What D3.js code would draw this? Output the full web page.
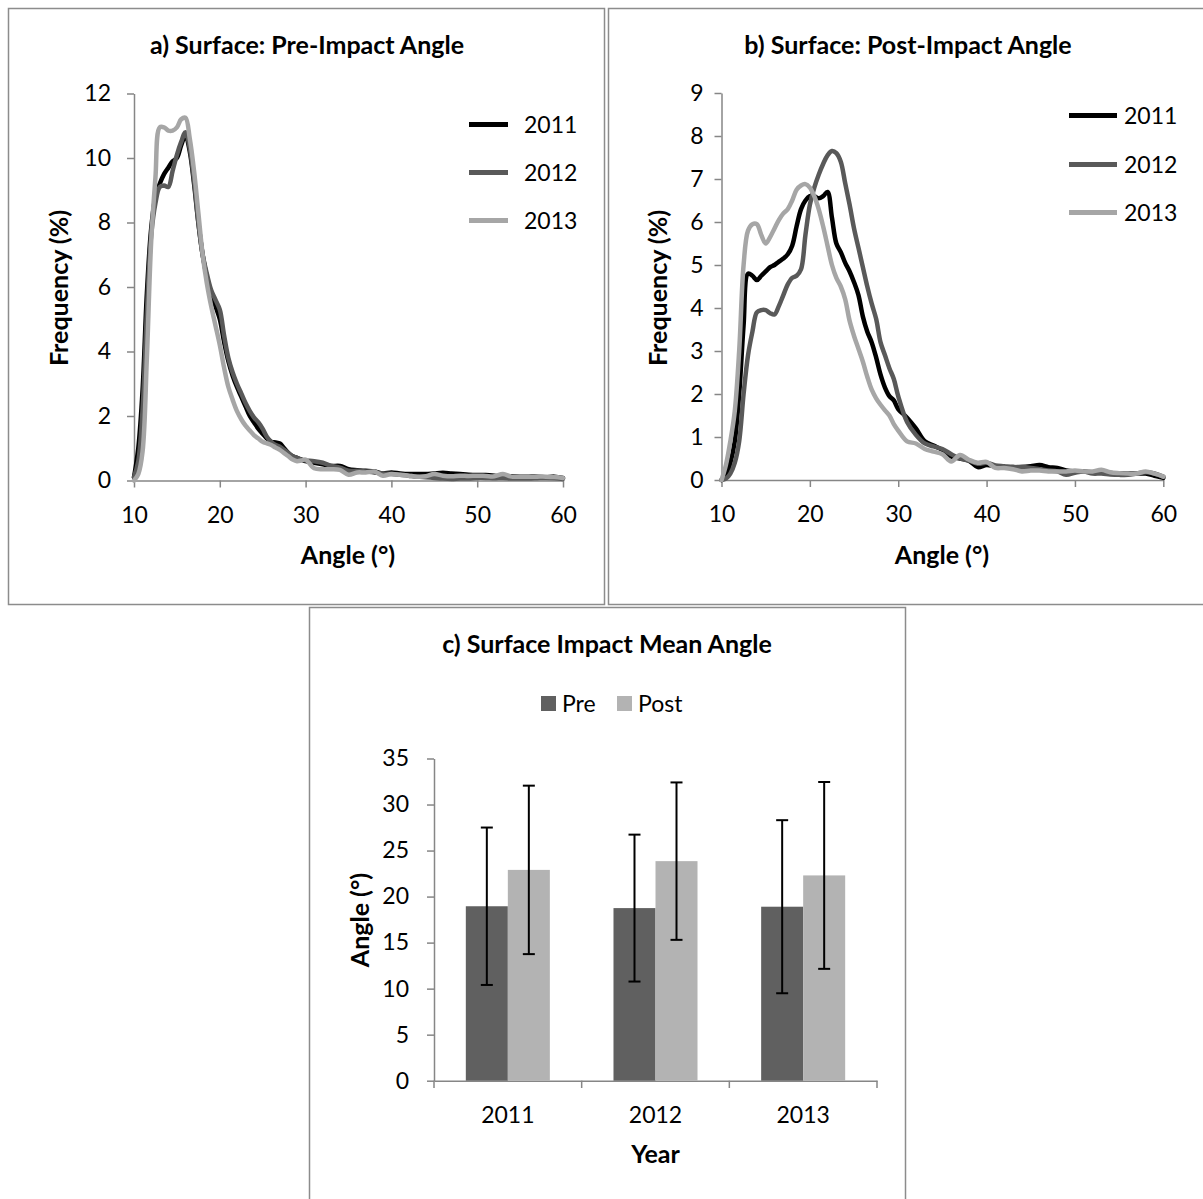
<!DOCTYPE html>
<html><head><meta charset="utf-8">
<script src="https://cdn.jsdelivr.net/npm/d3@7"></script>
<style>
body{margin:0;background:#fff}
svg{display:block}
text{font-family:Lato,"Open Sans",sans-serif;fill:#000}
</style>
</head><body>
<svg id="chart" width="1203" height="1199"></svg>
<script>
// ---------- DATA ----------
const angles = [10,10.5,11,11.5,12,12.5,13,13.5,14,14.5,15,15.5,16,16.5,17,17.5,18,18.5,19,19.5,20,20.5,21,21.5,22,22.5,23,23.5,24,24.5,25,25.5,26,26.5,27,27.5,28,28.5,29,29.5,30,
  31,32,33,34,35,36,37,38,39,40,41,42,43,44,45,46,47,48,49,50,51,52,53,54,55,56,57,58,59,60];
const yearNames = ["2011","2012","2013"];

const pre2011 = [0.1,1.0,2.8,5.8,7.8,8.8,9.2,9.5,9.7,9.9,10.0,10.4,10.7,10.2,9.2,8.0,7.0,6.3,5.8,5.4,5.0,4.3,3.7,3.25,2.9,2.6,2.3,2.0,1.8,1.6,1.45,1.3,1.2,1.18,1.15,1.0,0.85,0.75,0.7,0.65,0.6,
  0.55,0.5,0.45,0.45,0.35,0.32,0.3,0.28,0.22,0.25,0.22,0.2,0.2,0.2,0.22,0.24,0.22,0.2,0.18,0.17,0.17,0.15,0.12,0.13,0.12,0.12,0.12,0.1,0.12,0.08];
const pre2012 = [0.1,0.6,2.2,5.2,7.6,8.6,9.1,9.15,9.1,9.6,10.1,10.5,10.8,10.3,9.3,8.0,7.0,6.4,5.9,5.6,5.3,4.5,3.8,3.35,3.0,2.7,2.4,2.15,1.95,1.8,1.6,1.35,1.2,1.1,1.05,0.95,0.85,0.75,0.7,0.65,0.62,
  0.6,0.55,0.45,0.4,0.3,0.3,0.28,0.25,0.22,0.2,0.18,0.15,0.12,0.1,0.08,0.06,0.05,0.06,0.06,0.08,0.08,0.07,0.08,0.06,0.06,0.06,0.07,0.08,0.07,0.05];
const pre2013 = [0,0.2,0.9,3.8,7.4,9.4,10.95,10.95,10.85,10.85,10.95,11.2,11.25,10.6,9.6,8.3,7.0,6.1,5.4,4.8,4.2,3.5,2.9,2.5,2.15,1.9,1.7,1.55,1.4,1.3,1.2,1.15,1.1,1.02,0.95,0.85,0.75,0.65,0.6,0.62,0.65,
  0.38,0.35,0.35,0.33,0.18,0.25,0.25,0.28,0.15,0.2,0.18,0.15,0.12,0.13,0.2,0.15,0.13,0.15,0.14,0.15,0.14,0.13,0.2,0.12,0.12,0.12,0.12,0.12,0.11,0.08];

const post2011 = [0,0.1,0.4,0.9,2.0,3.6,4.8,4.75,4.65,4.75,4.85,4.95,5.0,5.08,5.15,5.25,5.45,5.9,6.3,6.5,6.6,6.6,6.55,6.6,6.7,6.1,5.5,5.3,5.05,4.85,4.6,4.3,3.8,3.45,3.2,2.85,2.45,2.15,1.95,1.85,1.65,
  1.45,1.2,0.9,0.8,0.7,0.55,0.5,0.45,0.3,0.35,0.32,0.3,0.3,0.3,0.32,0.35,0.3,0.28,0.22,0.2,0.2,0.18,0.17,0.16,0.15,0.15,0.15,0.15,0.1,0.05];
const post2012 = [0,0.03,0.15,0.4,0.9,2.0,2.9,3.45,3.9,3.95,3.95,3.88,3.85,4.05,4.3,4.55,4.7,4.75,4.9,5.7,6.4,6.8,7.1,7.35,7.55,7.65,7.6,7.4,6.9,6.4,5.85,5.4,4.95,4.5,4.1,3.75,3.2,2.9,2.6,2.35,1.95,
  1.35,1.05,0.85,0.78,0.72,0.6,0.5,0.45,0.38,0.4,0.34,0.32,0.3,0.3,0.28,0.25,0.22,0.2,0.12,0.17,0.2,0.15,0.15,0.13,0.12,0.12,0.15,0.18,0.15,0.08];
const post2013 = [0,0.35,0.9,1.6,3.0,5.0,5.8,5.95,5.95,5.7,5.5,5.65,5.85,6.05,6.2,6.3,6.5,6.75,6.85,6.88,6.8,6.6,6.3,5.9,5.45,5.0,4.7,4.5,4.2,3.7,3.35,3.05,2.75,2.4,2.1,1.9,1.75,1.62,1.5,1.3,1.15,
  0.9,0.85,0.72,0.66,0.6,0.43,0.58,0.47,0.4,0.42,0.28,0.28,0.25,0.2,0.22,0.22,0.2,0.2,0.2,0.22,0.2,0.2,0.24,0.18,0.16,0.15,0.15,0.2,0.15,0.08];

const freqTicksA = [0,2,4,6,8,10,12];
const freqTicksB = [0,1,2,3,4,5,6,7,8,9];
const angleTicks = [10,20,30,40,50,60];

const barGroups = ["Pre","Post"];
const preMean  = [18.95,18.75,18.9];
const preSD    = [8.55,7.98,9.4];
const postMean = [22.9,23.85,22.3];
const postSD   = [9.15,8.55,10.15];
const meanTicks = [0,5,10,15,20,25,30,35];

// ---------- STYLE ----------
const lineColors = ["#000000","#595959","#a6a6a6"];
const barColors = {Pre:"#606060", Post:"#b3b3b3"};
const axisColor = "#868686";
const frameColor = "#8c8c8c";
const tickFont = "23px";
const boldFont = "25px";

const svg = d3.select("#chart");

// frames
[[8,8,596,596],[608,8,600,596],[309,607,596,600]].forEach(f=>{
  svg.append("rect").attr("x",f[0]+0.5).attr("y",f[1]+0.5).attr("width",f[2]).attr("height",f[3])
    .attr("fill","none").attr("stroke",frameColor).attr("stroke-width",1.5);
});

function styleAxis(g){
  g.select(".domain").attr("stroke",axisColor).attr("stroke-width",1.5);
  g.selectAll(".tick line").attr("stroke",axisColor).attr("stroke-width",1.5);
  g.selectAll(".tick text").style("font-family","Lato, sans-serif").style("font-size",tickFont).attr("fill","#000");
}
function boldText(x,y,str,rot){
  const t = svg.append("text").attr("text-anchor","middle")
    .style("font-size",boldFont).style("font-weight","bold").text(str);
  if(rot) t.attr("transform",`translate(${x},${y}) rotate(-90)`);
  else t.attr("x",x).attr("y",y);
  return t;
}

function linePanel(opt){
  const x = d3.scaleLinear().domain([10,60]).range(opt.xr);
  const y = d3.scaleLinear().domain([0,opt.ymax]).range(opt.yr);
  const gx = svg.append("g").attr("transform",`translate(0,${opt.yr[0]})`)
    .call(d3.axisBottom(x).tickValues(angleTicks).tickSize(7).tickPadding(19).tickSizeOuter(0));
  styleAxis(gx);
  const gy = svg.append("g").attr("transform",`translate(${opt.xr[0]},0)`)
    .call(d3.axisLeft(y).tickValues(opt.yticks).tickSize(7).tickPadding(opt.ypad).tickSizeOuter(0));
  styleAxis(gy);
  const line = d3.line().x((d,i)=>x(angles[i])).y(d=>y(d)).curve(d3.curveCatmullRom.alpha(0.5));
  opt.series.forEach((s,i)=>{
    svg.append("path").attr("d",line(s)).attr("fill","none").attr("stroke",lineColors[i])
      .attr("stroke-width",4.5).attr("stroke-linejoin","round").attr("stroke-linecap","round");
  });
  // legend
  yearNames.forEach((n,i)=>{
    const ly = opt.legY[i];
    svg.append("line").attr("x1",opt.legX[0]).attr("x2",opt.legX[1]).attr("y1",ly).attr("y2",ly)
      .attr("stroke",lineColors[i]).attr("stroke-width",5);
    svg.append("text").attr("x",opt.legX[1]+opt.legGap).attr("y",ly+8.5).style("font-size",tickFont).text(n);
  });
  boldText(opt.titleX,54,opt.title);
  boldText(opt.xlabX,564,"Angle (°)");
  boldText(opt.ylabX,288,"Frequency (%)",true);
}

linePanel({xr:[134,563], yr:[480.5,93.5], ymax:12, yticks:freqTicksA, ypad:16,
  series:[pre2011,pre2012,pre2013], legX:[469,508], legY:[124.5,172.5,220.5], legGap:16,
  title:"a) Surface: Pre-Impact Angle", titleX:307, xlabX:348, ylabX:68});
linePanel({xr:[721.5,1163.3], yr:[480,93], ymax:9, yticks:freqTicksB, ypad:11,
  series:[post2011,post2012,post2013], legX:[1069,1117], legY:[115.5,164.5,212.5], legGap:7,
  title:"b) Surface: Post-Impact Angle", titleX:908, xlabX:942, ylabX:667});

// ---------- panel c ----------
const cx = d3.scaleBand().domain(yearNames).range([434,877]).paddingInner(0.431).paddingOuter(0.2155);
const cs = d3.scaleBand().domain(barGroups).range([0,cx.bandwidth()]);
const cy = d3.scaleLinear().domain([0,35]).range([1080.7,758.5]);

const gcy = svg.append("g").attr("transform","translate(434,0)")
  .call(d3.axisLeft(cy).tickValues(meanTicks).tickSize(7).tickPadding(18).tickSizeOuter(0));
styleAxis(gcy);
const gcx = svg.append("g").attr("transform","translate(0,1080.7)")
  .call(d3.axisBottom(cx).tickSize(0).tickPadding(26));
styleAxis(gcx);
// category boundary ticks
const step = cx.step();
d3.range(yearNames.length+1).forEach(i=>{
  const bx = 434 + i*step;
  svg.append("line").attr("x1",bx).attr("x2",bx).attr("y1",1080.7).attr("y2",1088)
    .attr("stroke",axisColor).attr("stroke-width",1.5);
});

const barData = [];
yearNames.forEach((yv,i)=>{
  barData.push({year:yv,g:"Pre",v:preMean[i],e:preSD[i]});
  barData.push({year:yv,g:"Post",v:postMean[i],e:postSD[i]});
});
svg.append("g").selectAll("rect").data(barData).join("rect")
  .attr("x",d=>cx(d.year)+cs(d.g)).attr("width",cs.bandwidth())
  .attr("y",d=>cy(d.v)).attr("height",d=>cy(0)-cy(d.v))
  .attr("fill",d=>barColors[d.g]);
// error bars
const eg = svg.append("g").attr("stroke","#000").attr("stroke-width",2);
barData.forEach(d=>{
  const mx = cx(d.year)+cs(d.g)+cs.bandwidth()/2;
  const t = cy(d.v+d.e), b = cy(d.v-d.e);
  eg.append("line").attr("x1",mx).attr("x2",mx).attr("y1",t).attr("y2",b);
  eg.append("line").attr("x1",mx-6).attr("x2",mx+6).attr("y1",t).attr("y2",t);
  eg.append("line").attr("x1",mx-6).attr("x2",mx+6).attr("y1",b).attr("y2",b);
});

boldText(607,653,"c) Surface Impact Mean Angle");
boldText(655.5,1163,"Year");
boldText(369,920,"Angle (°)",true);

// legend c
const legItems = [{g:"Pre",x:541},{g:"Post",x:617}];
legItems.forEach(l=>{
  svg.append("rect").attr("x",l.x).attr("y",696).attr("width",15).attr("height",15).attr("fill",barColors[l.g]);
  svg.append("text").attr("x",l.x+21).attr("y",712).style("font-size",tickFont).text(l.g);
});
</script>
</body></html>
